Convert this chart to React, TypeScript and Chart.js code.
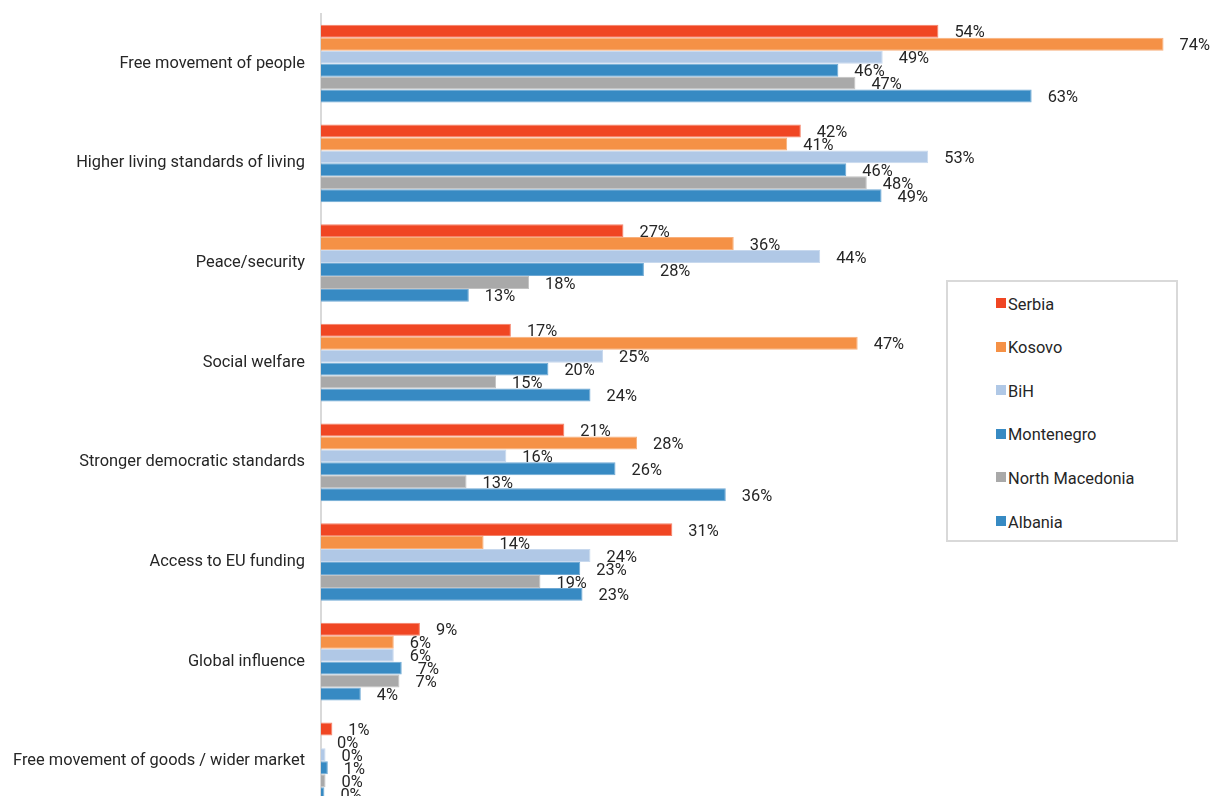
import React, { useEffect, useRef } from "react";
import { Chart, registerables } from "chart.js";

Chart.register(...registerables);

const categories = [
  "Free movement of people",
  "Higher living standards of living",
  "Peace/security",
  "Social welfare",
  "Stronger democratic standards",
  "Access to EU funding",
  "Global influence",
  "Free movement of goods / wider market",
];

const seriesNames = ["Serbia", "Kosovo", "BiH", "Montenegro", "North Macedonia", "Albania"];

const serbia = [54.3, 42.2, 26.6, 16.7, 21.4, 30.9, 8.7, 1.0];
const kosovo = [74.1, 41.0, 36.3, 47.2, 27.8, 14.3, 6.4, 0.0];
const bih = [49.4, 53.4, 43.9, 24.8, 16.3, 23.7, 6.4, 0.4];
const montenegro = [45.5, 46.2, 28.4, 20.0, 25.9, 22.8, 7.1, 0.6];
const northMacedonia = [47.0, 48.0, 18.3, 15.4, 12.8, 19.3, 6.9, 0.4];
const albania = [62.5, 49.3, 13.0, 23.7, 35.6, 23.0, 3.5, 0.3];

const seriesValues = [serbia, kosovo, bih, montenegro, northMacedonia, albania];
const colors = ["#F04623", "#F59146", "#B0C8E6", "#378AC3", "#A9A9A9", "#378AC3"];
const borderColors = ["#F5836A", "#F8B07C", "#C8D9EE", "#6FA9D4", "#C2C2C2", "#6FA9D4"];

const FONT = "Roboto, 'Noto Sans', sans-serif";
const FS = 16.4;

const valueLabels = {
  id: "valueLabels",
  afterDatasetsDraw(chart: any) {
    const ctx = chart.ctx;
    ctx.save();
    ctx.font = `${FS}px ${FONT}`;
    ctx.fillStyle = "#262626";
    ctx.textAlign = "left";
    ctx.textBaseline = "middle";
    chart.data.datasets.forEach((ds: any, i: number) => {
      const meta = chart.getDatasetMeta(i);
      meta.data.forEach((el: any, j: number) => {
        const v = ds.data[j];
        ctx.fillText(`${Math.round(v)}%`, el.x + 16, el.y + 2);
      });
    });
    ctx.restore();
  },
};

export default function App() {
  const ref = useRef<HTMLCanvasElement>(null);
  useEffect(() => {
    if (!ref.current) return;
    const chart = new Chart(ref.current, {
      type: "bar",
      data: {
        labels: categories,
        datasets: seriesNames.map((name, i) => ({
          label: name,
          data: seriesValues[i],
          backgroundColor: colors[i],
          borderColor: borderColors[i],
          borderWidth: 1,
          categoryPercentage: 0.78,
          barPercentage: 1,
        })),
      },
      options: {
        indexAxis: "y",
        responsive: false,
        maintainAspectRatio: false,
        animation: false,
        layout: { padding: { top: 1, bottom: 3, left: 0, right: 0 } },
        plugins: {
          legend: { display: false },
          tooltip: { enabled: false },
        },
        scales: {
          x: {
            display: false,
            min: 0,
            max: 78.45,
          },
          y: {
            afterFit(scale: any) {
              scale.width = 321;
            },
            grid: {
              display: true,
              drawOnChartArea: false,
              drawTicks: false,
              color: "rgba(0,0,0,0)",
            },
            border: { display: true, color: "#D9D9D9", width: 2 },
            ticks: {
              padding: 16,
              color: "#262626",
              font: { family: FONT, size: FS },
            },
          },
        },
      },
      plugins: [valueLabels],
    } as any);
    return () => chart.destroy();
  }, []);

  return (
    <div
      style={{
        position: "absolute",
        left: 0,
        top: 0,
        width: 1213,
        height: 796,
        overflow: "hidden",
        background: "#fff",
      }}
    >
      <canvas
        ref={ref}
        width={1213}
        height={849}
        style={{ display: "block", position: "absolute", left: 0, top: -12 }}
      />
      <div
        style={{
          position: "absolute",
          left: 946,
          top: 280,
          width: 228,
          height: 258,
          border: "2px solid #D9D9D9",
          background: "#fff",
          boxSizing: "content-box",
        }}
      >
        {seriesNames.map((name, i) => (
          <div
            key={name}
            style={{
              position: "absolute",
              left: 48,
              top: 22 + i * 43.6 - 10,
              height: 20,
              display: "flex",
              alignItems: "center",
              fontFamily: FONT,
              fontSize: FS,
              color: "#262626",
              whiteSpace: "nowrap",
            }}
          >
            <span
              style={{
                display: "inline-block",
                width: 10,
                height: 10,
                background: colors[i],
                marginRight: 2,
                position: "relative",
                top: -1,
              }}
            />
            {name}
          </div>
        ))}
      </div>
    </div>
  );
}
